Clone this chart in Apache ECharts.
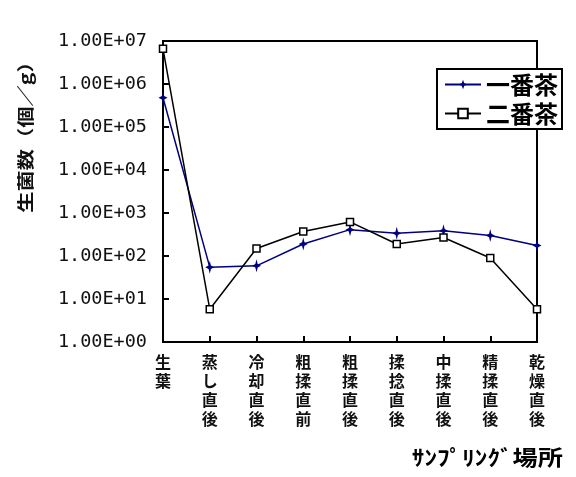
<!DOCTYPE html>
<html>
<head>
<meta charset="utf-8">
<script src="https://cdn.jsdelivr.net/npm/echarts@6/dist/echarts.min.js"></script>
<style>
html,body{margin:0;padding:0;background:#fff;}
#c{width:576px;height:477px;}
</style>
</head>
<body>
<div id="c"></div>
<script>
const categories = ['生葉', '蒸し直後', '冷却直後', '粗揉直前', '粗揉直後', '揉捻直後', '中揉直後', '精揉直後', '乾燥直後'];
const ichibancha = [480000, 55, 59, 190, 410, 340, 385, 300, 175];
const nibancha = [6600000, 5.8, 150, 370, 620, 190, 270, 90, 5.8];
const seriesNames = ['一番茶', '二番茶'];
const yAxisTitle = '生菌数（個／g）';
const xAxisTitle = 'ｻﾝﾌﾟﾘﾝｸﾞ場所';

const chart = echarts.init(document.getElementById('c'), null, {renderer: 'canvas'});
const cjk = '"Noto Sans CJK JP", "Noto Sans", sans-serif';

chart.setOption({
  backgroundColor: '#fff',
  animation: false,
  grid: {
    left: 163, right: 39, top: 41, bottom: 135,
    show: true, borderColor: '#000', borderWidth: 2, backgroundColor: 'transparent'
  },
  legend: {
    orient: 'vertical',
    left: 437, top: 69,
    backgroundColor: '#fff',
    borderColor: '#000', borderWidth: 2,
    padding: [3, 4, 3, 7],
    itemWidth: 36, itemHeight: 12, itemGap: 4,
    textStyle: {fontFamily: cjk, fontSize: 24, fontWeight: 'bold', color: '#000', lineHeight: 25},
    data: seriesNames
  },
  xAxis: {
    type: 'category',
    data: categories,
    boundaryGap: false,
    axisLine: {show: true, lineStyle: {color: '#000', width: 2}},
    axisTick: {show: true, inside: true, length: 6, lineStyle: {color: '#000', width: 2}},
    axisLabel: {
      interval: 0, margin: 10,
      fontFamily: cjk, fontSize: 16, fontWeight: 'bold', color: '#111', lineHeight: 19,
      formatter: v => v.split('').join('\n')
    },
    splitLine: {show: false}
  },
  yAxis: {
    type: 'log', logBase: 10, min: 1, max: 10000000,
    splitNumber: 7,
    axisLine: {show: true, lineStyle: {color: '#000', width: 2}},
    axisTick: {show: true, inside: true, length: 6, lineStyle: {color: '#000', width: 2}},
    axisLabel: {
      margin: 16,
      fontFamily: '"DejaVu Sans Mono", monospace', fontSize: 18.5, color: '#111',
      formatter: v => {
        const e = Math.round(Math.log10(v));
        return '1.00E+' + (e < 10 ? '0' + e : e);
      }
    },
    splitLine: {show: false}
  },
  graphic: [
    {
      type: 'text', x: 26, y: 132, rotation: Math.PI / 2, scaleX: 1.25, scaleY: 1,
      style: {text: yAxisTitle, fontFamily: cjk, fontSize: 17, fontWeight: 'bold', fill: '#111',
              textAlign: 'center', textVerticalAlign: 'middle'}
    },
    {
      type: 'text', x: 563, y: 457, scaleX: 1.2, scaleY: 1,
      style: {text: xAxisTitle, fontFamily: cjk, fontSize: 21, fontWeight: 'bold', fill: '#000',
              textAlign: 'right', textVerticalAlign: 'middle'}
    }
  ],
  series: [
    {
      name: seriesNames[0], type: 'line', data: ichibancha,
      lineStyle: {color: '#00007f', width: 1.5},
      itemStyle: {color: '#00007f'},
      symbol: 'path://M0,-6 L1.6,-1.6 L6,0 L1.6,1.6 L0,6 L-1.6,1.6 L-6,0 L-1.6,-1.6 Z',
      symbolSize: [9, 13]
    },
    {
      name: seriesNames[1], type: 'line', data: nibancha,
      lineStyle: {color: '#000', width: 1.5},
      itemStyle: {color: '#fff', borderColor: '#000', borderWidth: 1.5},
      symbol: 'rect', symbolSize: 7
    }
  ]
});
</script>
</body>
</html>
